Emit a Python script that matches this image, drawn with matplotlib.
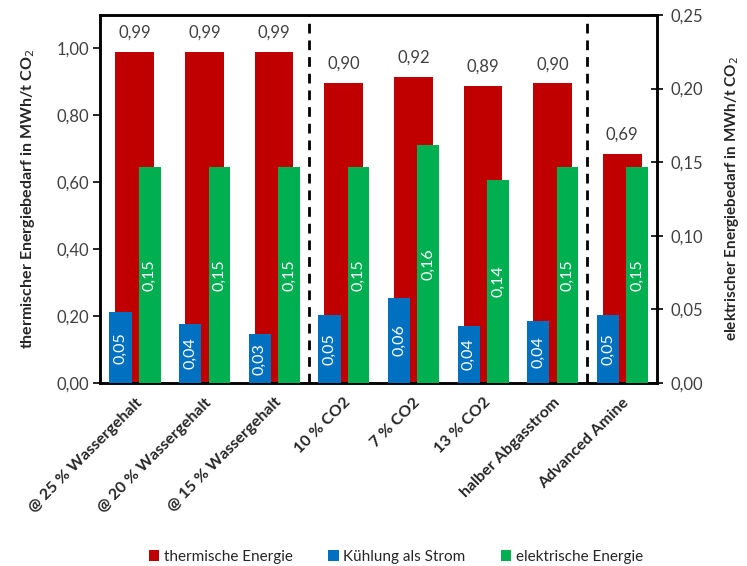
import matplotlib
matplotlib.use("Agg")
import matplotlib.pyplot as plt
import numpy as np
from matplotlib.ticker import FuncFormatter

plt.rcParams['font.family'] = ['Lato', 'DejaVu Sans']

categories = ["@ 25 % Wassergehalt", "@ 20 % Wassergehalt", "@ 15 % Wassergehalt",
              "10 % CO2", "7 % CO2", "13 % CO2", "halber Abgasstrom", "Advanced Amine"]
thermisch = [0.99, 0.99, 0.99, 0.898, 0.916, 0.888, 0.896, 0.686]
kuehlung = [0.048, 0.040, 0.033, 0.046, 0.058, 0.039, 0.042, 0.046]
elektrisch = [0.147, 0.147, 0.147, 0.147, 0.162, 0.138, 0.147, 0.147]
series_names = ["thermische Energie", "Kühlung als Strom", "elektrische Energie"]
colors = ["#C00000", "#0070C0", "#00B050"]
separators = [2.5, 6.5]

fig = plt.figure(figsize=(7.47, 5.66), dpi=100)
ax = fig.add_axes([100/747, 1-383/566, 557/747, 368/566])
ax2 = ax.twinx()

x = np.arange(len(categories))
b_red = ax.bar(x, thermisch, width=0.555, color=colors[0], label=series_names[0], zorder=2)
b_blue = ax2.bar(x - 0.205, kuehlung, width=0.32, color=colors[1], label=series_names[1], zorder=3)
b_green = ax2.bar(x + 0.215, elektrisch, width=0.31, color=colors[2], label=series_names[2], zorder=3)

fmt = lambda v: f"{v:.2f}".replace('.', ',')
ax.bar_label(b_red, labels=[fmt(v) for v in thermisch], padding=8, fontsize=12, color='#404040')
ax2.bar_label(b_blue, labels=[fmt(v) for v in kuehlung], label_type='center', rotation=90,
              fontsize=11.5, color='white')
ax2.bar_label(b_green, labels=[fmt(v) for v in elektrisch], label_type='center', rotation=90,
              fontsize=11.5, color='white')

for s in separators:
    ax.axvline(s, color='black', lw=2, ls=(0, (3.5, 2.5)), zorder=4)

ax.set_xlim(-0.5, len(categories) - 0.5)
ax.set_ylim(0, 1.1)
ax2.set_ylim(0, 0.25)
ax.set_yticks(np.arange(0, 1.01, 0.2))
ax2.set_yticks(np.arange(0, 0.251, 0.05))
ax.yaxis.set_major_formatter(FuncFormatter(lambda v, p: fmt(v)))
ax2.yaxis.set_major_formatter(FuncFormatter(lambda v, p: fmt(v)))

ax.set_xticks(x)
ax.set_xticklabels(categories, rotation=45, ha='right', rotation_mode='anchor',
                   fontsize=11.5, fontweight='bold', color='#262626')
ax.tick_params(axis='x', length=0, pad=9)
ax.tick_params(axis='y', length=5, width=1.2, labelsize=12, colors='#404040', pad=3)
ax.tick_params(axis='y', color='black')
ax2.tick_params(axis='y', length=8, width=1.2, direction='inout', labelsize=12,
                labelcolor='#404040', color='black', pad=6)

for a in (ax, ax2):
    for sp in a.spines.values():
        sp.set_linewidth(1.8)
        sp.set_color('black')

ax.set_ylabel("thermischer Energiebedarf in MWh/t CO$_2$", fontsize=11.5, fontweight='bold',
              color='#262626', labelpad=14)
ax2.set_ylabel("elektrischer Energiebedarf in MWh/t CO$_2$", fontsize=11, fontweight='bold',
               color='#262626', labelpad=14, rotation=90)

handles = [b_red, b_blue, b_green]
leg = fig.legend(handles, series_names, loc='center', ncol=3, frameon=False, fontsize=11,
                 handlelength=0.7, handleheight=0.7, handletextpad=0.3, columnspacing=2.3,
                 bbox_to_anchor=(0.53, 1 - 557/566), bbox_transform=fig.transFigure)
for t in leg.get_texts():
    t.set_color('#262626')

fig.savefig("out.png", dpi=100)
